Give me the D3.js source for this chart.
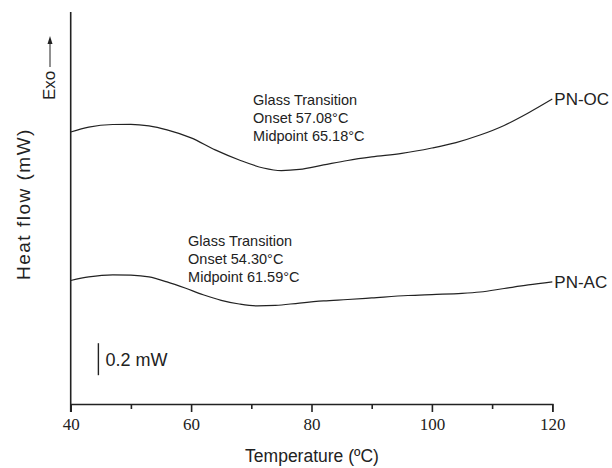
<!DOCTYPE html>
<html>
<head>
<meta charset="utf-8">
<script src="https://cdn.jsdelivr.net/npm/d3@7"></script>
<style>
  body { margin: 0; background: #fff; }
  svg { display: block; }
  .sans { font-family: "Liberation Sans", Arial, sans-serif; fill: #222; }
</style>
</head>
<body>
<script>
// temperature (°C) and heat flow (mW, arbitrary offset)
var tempOC = [40, 43, 47, 50, 53, 56, 60, 64, 68, 72, 75, 78, 82, 86, 90, 95, 100, 104, 108, 112, 116, 120];
var flowOC = [1.700, 1.731, 1.747, 1.748, 1.738, 1.713, 1.663, 1.588, 1.525, 1.475, 1.459, 1.466, 1.494, 1.522, 1.544, 1.566, 1.600, 1.634, 1.681, 1.741, 1.819, 1.906];

var tempAC = [40, 43, 47, 50, 53, 56, 59, 62, 65, 68, 71, 74, 78, 82, 86, 90, 96, 100, 105, 108, 112, 116, 120];
var flowAC = [0.772, 0.794, 0.807, 0.805, 0.794, 0.763, 0.725, 0.683, 0.648, 0.625, 0.613, 0.616, 0.631, 0.644, 0.653, 0.663, 0.678, 0.684, 0.691, 0.700, 0.722, 0.744, 0.763];

var seriesNames = ["PN-OC", "PN-AC"];
var majorTicks = [40, 60, 80, 100, 120];
var minorTicks = [50, 70, 90, 110];

// annotation text blocks: anchor temp / flow
var notes = [
  { t: 70.3, f: 1.90, lines: ["Glass Transition", "Onset 57.08°C", "Midpoint 65.18°C"] },
  { t: 59.5, f: 1.02, lines: ["Glass Transition", "Onset 54.30°C", "Midpoint 61.59°C"] }
];
var scaleBar = { t: 44.6, f0: 0.18, size: 0.2, label: "0.2 mW" };

var width = 612, height = 468;
var x = d3.scaleLinear().domain([40, 120]).range([70.7, 552.3]);
var y = d3.scaleLinear().domain([0, 2.45]).range([404, 12]);

var svg = d3.select("body").append("svg")
    .attr("width", width)
    .attr("height", height);

// axes
svg.append("line")
    .attr("x1", x(40)).attr("x2", x(40))
    .attr("y1", y(2.45)).attr("y2", y(0) + 8)
    .attr("stroke", "#222").attr("stroke-width", 1.6);

var xAxis = svg.append("g")
    .attr("transform", "translate(0," + y(0) + ")")
    .call(d3.axisBottom(x).tickValues(majorTicks).tickSize(8).tickPadding(6).tickFormat(d3.format("d")));
xAxis.select(".domain").attr("stroke", "#222").attr("stroke-width", 1.6);
xAxis.selectAll(".tick line").attr("stroke", "#222").attr("stroke-width", 1.6);
xAxis.selectAll("text")
    .attr("font-family", "'Liberation Serif', 'Times New Roman', serif")
    .attr("font-size", 17).attr("fill", "#222");

svg.append("g")
    .attr("transform", "translate(0," + y(0) + ")")
    .call(d3.axisBottom(x).tickValues(minorTicks).tickSize(5).tickFormat(""))
    .call(function(g) { g.select(".domain").remove(); })
    .selectAll(".tick line").attr("stroke", "#222").attr("stroke-width", 1.6);

// curves
var line = d3.line().curve(d3.curveMonotoneX)
    .x(function(d) { return x(d[0]); })
    .y(function(d) { return y(d[1]); });

var curves = [d3.zip(tempOC, flowOC), d3.zip(tempAC, flowAC)];
curves.forEach(function(pts, i) {
    svg.append("path")
        .datum(pts)
        .attr("fill", "none")
        .attr("stroke", "#222")
        .attr("stroke-width", 1.2)
        .attr("d", line);
    var last = pts[pts.length - 1];
    svg.append("text")
        .attr("class", "sans")
        .attr("x", x(last[0]) + 2)
        .attr("y", y(last[1]))
        .attr("dy", "0.35em")
        .attr("font-size", 17)
        .text(seriesNames[i]);
});

// annotations
notes.forEach(function(n) {
    var t = svg.append("text")
        .attr("class", "sans")
        .attr("font-size", 14.5)
        .attr("x", x(n.t))
        .attr("y", y(n.f));
    n.lines.forEach(function(s, k) {
        t.append("tspan").attr("x", x(n.t)).attr("dy", k === 0 ? "0.35em" : 18).text(s);
    });
});

// scale bar
svg.append("line")
    .attr("x1", x(scaleBar.t)).attr("x2", x(scaleBar.t))
    .attr("y1", y(scaleBar.f0)).attr("y2", y(scaleBar.f0 + scaleBar.size))
    .attr("stroke", "#222").attr("stroke-width", 1.4);
svg.append("text")
    .attr("class", "sans")
    .attr("x", x(scaleBar.t) + 7)
    .attr("y", y(scaleBar.f0 + scaleBar.size / 2))
    .attr("dy", "0.35em")
    .attr("font-size", 18)
    .text(scaleBar.label);

// axis titles
svg.append("text")
    .attr("class", "sans")
    .attr("x", 312).attr("y", 462)
    .attr("text-anchor", "middle")
    .attr("font-size", 17.5)
    .text("Temperature (ºC)");

svg.append("text")
    .attr("class", "sans")
    .attr("transform", "translate(30,280) rotate(-90)")
    .attr("font-size", 19)
    .attr("letter-spacing", 1.5)
    .text("Heat flow (mW)");

svg.append("text")
    .attr("class", "sans")
    .attr("transform", "translate(55,100) rotate(-90)")
    .attr("font-size", 17)
    .text("Exo");

svg.append("line")
    .attr("x1", 50).attr("x2", 50)
    .attr("y1", 67).attr("y2", 42)
    .attr("stroke", "#222").attr("stroke-width", 1);
svg.append("path")
    .attr("d", "M50,36 L47.5,44 L52.5,44 Z")
    .attr("fill", "#222");
</script>
</body>
</html>
